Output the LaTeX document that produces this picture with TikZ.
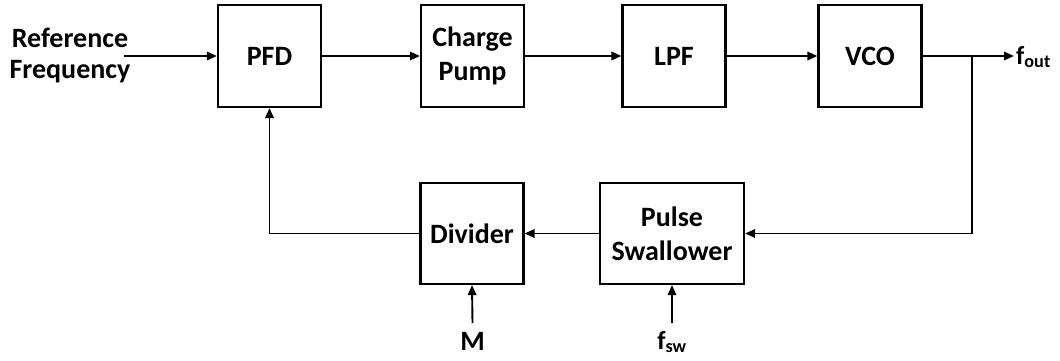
\documentclass[tikz,border=0pt]{standalone}
\usepackage{fontspec}
\setmainfont{Carlito}
\usetikzlibrary{arrows.meta}
\begin{document}
\begin{tikzpicture}[x=1pt,y=-1pt,
  blk/.style={draw,line width=2.2pt,minimum width=103pt,minimum height=102pt,inner sep=0pt,align=center,font=\fontsize{28}{34}\selectfont\bfseries},
  lbl/.style={inner sep=0pt,align=center,font=\fontsize{28}{31}\selectfont\bfseries},
  wire/.style={line width=1.9pt},
  arr/.style={wire,-{Triangle[length=10pt,width=8.5pt]}}]
\useasboundingbox (0,0) rectangle (1060,360);
\node[blk] (pfd) at (269.5,56) {PFD};
\node[blk] (cp) at (472.5,56) {Charge\\Pump};
\node[blk] (lpf) at (674,56) {LPF};
\node[blk] (vco) at (870,56) {VCO};
\node[blk,minimum height=101pt] (div) at (472,233.5) {Divider};
\node[blk,minimum width=144pt,minimum height=101pt] (ps) at (672,233.5) {Pulse\\Swallower};
\node[lbl] (ref) at (70,55) {Reference\\Frequency};
\node[lbl,anchor=west,font=\fontsize{26}{28}\selectfont\bfseries] (fout) at (1016,57) {f\textsubscript{out}};
\node[lbl] (m) at (472.5,341) {M};
\node[lbl,font=\fontsize{26}{28}\selectfont\bfseries] (fsw) at (672,342) {f\textsubscript{sw}};
\coordinate (refend) at (124,56);
\coordinate (j) at (972,56);
\coordinate (outend) at (1014,56);
\coordinate (min) at (472.5,323);
\coordinate (fswin) at (672,323);
\draw[arr] (refend) -- (pfd.west);
\draw[arr] (pfd.east) -- (cp.west);
\draw[arr] (cp.east) -- (lpf.west);
\draw[arr] (lpf.east) -- (vco.west);
\draw[arr] (vco.east) -- (outend);
\draw[arr] (j) |- (ps.east);
\draw[arr] (ps.west) -- (div.east);
\draw[arr] (div.west) -| (pfd.south);
\draw[arr] (min) -- (div.south);
\draw[arr] (fswin) -- (ps.south);
\end{tikzpicture}
\end{document}
